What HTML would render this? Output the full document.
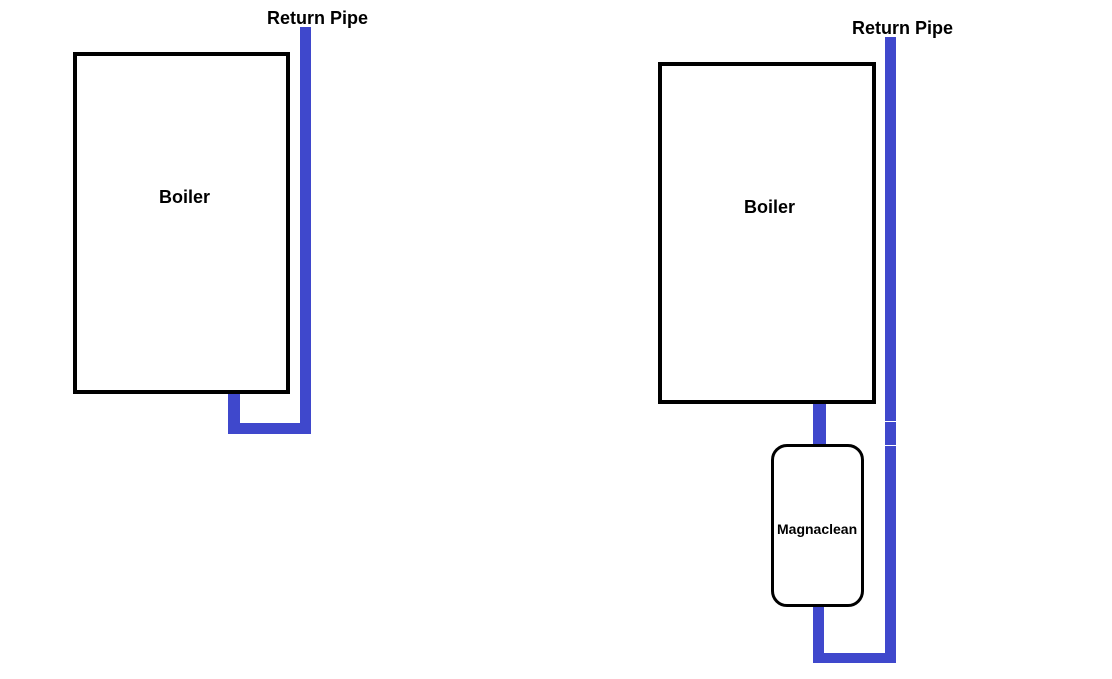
<!DOCTYPE html>
<html><head><style>
body{margin:0;width:1112px;height:679px;background:#fff;position:relative;overflow:hidden;font-family:"Liberation Sans",sans-serif;font-weight:bold}
div{position:absolute;box-sizing:border-box}
.b{background:#3f48cc}
.t{color:#000;white-space:nowrap;line-height:1}
</style></head><body>
<div style="left:73px;top:52px;width:217px;height:342px;border:4px solid #000"></div>
<div class="b" style="left:300px;top:27px;width:11px;height:407px"></div>
<div class="b" style="left:228px;top:394px;width:12px;height:40px"></div>
<div class="b" style="left:228px;top:423px;width:83px;height:11px"></div>
<div class="t" style="left:267px;top:9px;font-size:18px">Return Pipe</div>
<div class="t" style="left:159px;top:188px;font-size:18px">Boiler</div>

<div style="left:658px;top:62px;width:218px;height:342px;border:4px solid #000"></div>
<div class="b" style="left:885px;top:37px;width:11px;height:626px"></div>
<div style="left:885px;top:421px;width:11px;height:1px;background:#fff"></div>
<div style="left:885px;top:445px;width:11px;height:1px;background:#fff"></div>
<div class="b" style="left:813px;top:404px;width:13px;height:42px"></div>
<div class="b" style="left:813px;top:605px;width:11px;height:58px"></div>
<div class="b" style="left:813px;top:653px;width:83px;height:10px"></div>
<div style="left:771px;top:444px;width:93px;height:163px;border:3px solid #000;border-radius:16px;background:#fff"></div>
<div class="t" style="left:852px;top:19px;font-size:18px">Return Pipe</div>
<div class="t" style="left:744px;top:198px;font-size:18px">Boiler</div>
<div class="t" style="left:777px;top:522px;font-size:14px">Magnaclean</div>
</body></html>
